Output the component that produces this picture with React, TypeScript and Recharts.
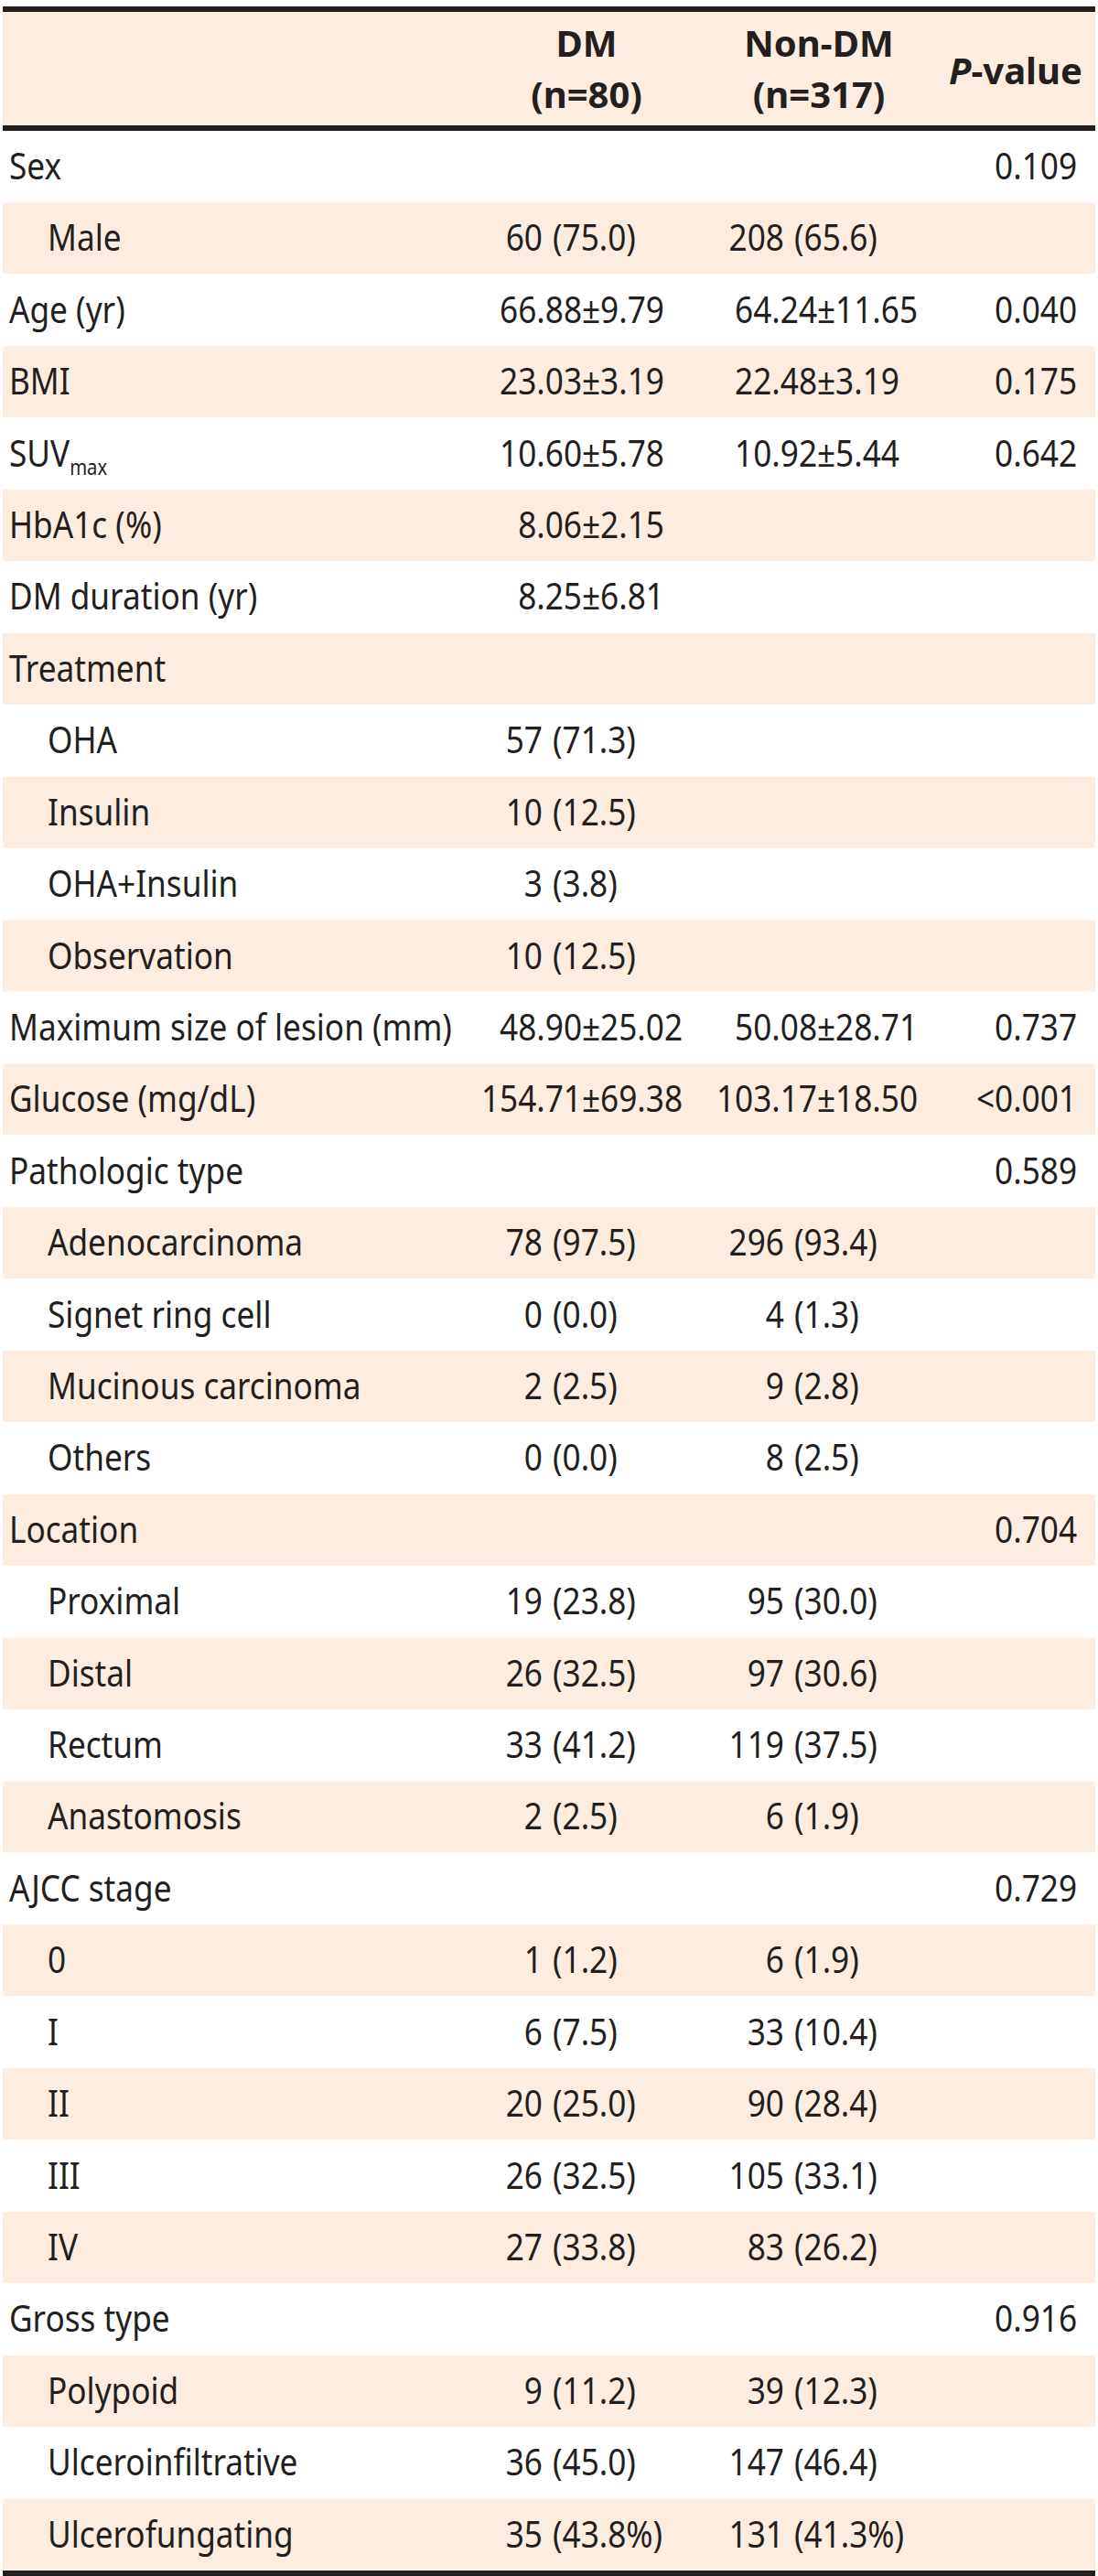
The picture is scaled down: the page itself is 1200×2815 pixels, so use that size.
import React from 'react';
import { BarChart, Bar, XAxis, YAxis, Customized } from 'recharts';

const rowLabels = ['Sex', 'Male', 'Age (yr)', 'BMI', 'SUV', 'HbA1c (%)', 'DM duration (yr)', 'Treatment', 'OHA', 'Insulin', 'OHA+Insulin', 'Observation', 'Maximum size of lesion (mm)', 'Glucose (mg/dL)', 'Pathologic type', 'Adenocarcinoma', 'Signet ring cell', 'Mucinous carcinoma', 'Others', 'Location', 'Proximal', 'Distal', 'Rectum', 'Anastomosis', 'AJCC stage', '0', 'I', 'II', 'III', 'IV', 'Gross type', 'Polypoid', 'Ulceroinfiltrative', 'Ulcerofungating'];
const rowSubscripts = ['', '', '', '', 'max', '', '', '', '', '', '', '', '', '', '', '', '', '', '', '', '', '', '', '', '', '', '', '', '', '', '', '', '', ''];
const indented = [0, 1, 0, 0, 0, 0, 0, 0, 1, 1, 1, 1, 0, 0, 0, 1, 1, 1, 1, 0, 1, 1, 1, 1, 0, 1, 1, 1, 1, 1, 0, 1, 1, 1];
const dmValues = ['', '60 (75.0)', '66.88±9.79', '23.03±3.19', '10.60±5.78', '8.06±2.15', '8.25±6.81', '', '57 (71.3)', '10 (12.5)', '3 (3.8)', '10 (12.5)', '48.90±25.02', '154.71±69.38', '', '78 (97.5)', '0 (0.0)', '2 (2.5)', '0 (0.0)', '', '19 (23.8)', '26 (32.5)', '33 (41.2)', '2 (2.5)', '', '1 (1.2)', '6 (7.5)', '20 (25.0)', '26 (32.5)', '27 (33.8)', '', '9 (11.2)', '36 (45.0)', '35 (43.8%)'];
const nonDmValues = ['', '208 (65.6)', '64.24±11.65', '22.48±3.19', '10.92±5.44', '', '', '', '', '', '', '', '50.08±28.71', '103.17±18.50', '', '296 (93.4)', '4 (1.3)', '9 (2.8)', '8 (2.5)', '', '95 (30.0)', '97 (30.6)', '119 (37.5)', '6 (1.9)', '', '6 (1.9)', '33 (10.4)', '90 (28.4)', '105 (33.1)', '83 (26.2)', '', '39 (12.3)', '147 (46.4)', '131 (41.3%)'];
const pValues = ['0.109', '', '0.040', '0.175', '0.642', '', '', '', '', '', '', '', '0.737', '<0.001', '0.589', '', '', '', '', '0.704', '', '', '', '', '0.729', '', '', '', '', '', '0.916', '', '', ''];
const headerGroups = ['DM', 'Non-DM'];
const headerCounts = ['(n=80)', '(n=317)'];
const headerP = ['P', '-value'];

const data = rowLabels.map((label, i) => ({
  label,
  sub: rowSubscripts[i],
  indent: indented[i],
  dm: dmValues[i],
  nonDm: nonDmValues[i],
  p: pValues[i],
  span: 1,
}));

const W = 1200;
const H = 2815;
const INK = '#231f20';
const PEACH = '#fdede0';
const FONT = "'Noto Sans', 'Open Sans', sans-serif";
const FS = 40;
const SX = 0.88;

const COLS = [
  { countEnd: 593, countStart: 604, meanPivot: 636 },
  { countEnd: 857, countStart: 868, meanPivot: 893 },
];
const P_RIGHT = 1177;

function T({ x, y, anchor = 'start', children, weight = 400, size = FS, sx = SX }: any) {
  return (
    <g transform={`translate(${x},${y}) scale(${sx},1)`}>
      <text x={0} y={0} textAnchor={anchor} fontFamily={FONT} fontSize={size} fontWeight={weight} fill={INK}>
        {children}
      </text>
    </g>
  );
}

function ValueCell({ value, col, y }: any) {
  if (!value) return null;
  const c = COLS[col];
  const pm = value.indexOf('±');
  if (pm >= 0) {
    return (
      <g>
        <T x={c.meanPivot} y={y} anchor="end">{value.slice(0, pm)}</T>
        <T x={c.meanPivot} y={y}>{value.slice(pm)}</T>
      </g>
    );
  }
  const pa = value.indexOf(' (');
  if (pa >= 0) {
    return (
      <g>
        <T x={c.countEnd} y={y} anchor="end">{value.slice(0, pa)}</T>
        <T x={c.countStart} y={y}>{value.slice(pa + 1)}</T>
      </g>
    );
  }
  return <T x={c.countStart} y={y}>{value}</T>;
}

function RowShape(props: any) {
  const { x, y, width, height, index, payload } = props;
  const base = y + height / 2 + 14;
  const lx = payload.indent ? 52 : 10;
  return (
    <g>
      <rect x={x} y={y} width={width} height={height} fill={index % 2 === 1 ? PEACH : '#ffffff'} />
      <g transform={`translate(${lx},${base}) scale(${SX},1)`}>
        <text x={0} y={0} fontFamily={FONT} fontSize={FS} fill={INK}>
          {payload.label}
          {payload.sub ? (
            <tspan fontSize={23} dy={9}>{payload.sub}</tspan>
          ) : null}
        </text>
      </g>
      <ValueCell value={payload.dm} col={0} y={base} />
      <ValueCell value={payload.nonDm} col={1} y={base} />
      {payload.p ? <T x={P_RIGHT} y={base} anchor="end">{payload.p}</T> : null}
    </g>
  );
}

function Header() {
  return (
    <g>
      <rect x={3} y={12} width={W - 6} height={126} fill={PEACH} />
      <rect x={3} y={7} width={W - 6} height={6} fill={INK} />
      <rect x={3} y={137} width={W - 6} height={6} fill={INK} />
      <rect x={3} y={2809} width={W - 6} height={6} fill={INK} />
      <T x={641} y={62} anchor="middle" weight={700} sx={1}>{headerGroups[0]}</T>
      <T x={641} y={118} anchor="middle" weight={700} sx={1}>{headerCounts[0]}</T>
      <T x={895} y={62} anchor="middle" weight={700} sx={1}>{headerGroups[1]}</T>
      <T x={895} y={118} anchor="middle" weight={700} sx={1}>{headerCounts[1]}</T>
      <g transform={`translate(1110,92) scale(1,1)`}>
        <text x={0} y={0} textAnchor="middle" fontFamily={FONT} fontSize={FS} fontWeight={700} fill={INK}>
          <tspan fontStyle="italic">{headerP[0]}</tspan>
          <tspan>{headerP[1]}</tspan>
        </text>
      </g>
    </g>
  );
}

export default function App() {
  return (
    <div style={{ position: 'absolute', left: 0, top: 0, width: W, height: H, background: '#ffffff' }}>
      <BarChart
        width={W}
        height={H}
        data={data}
        layout="vertical"
        margin={{ top: 143, right: 3, bottom: 6, left: 3 }}
        barCategoryGap={0}
        barGap={0}
      >
        <XAxis type="number" domain={[0, 1]} hide />
        <YAxis type="category" dataKey="label" hide />
        <Bar dataKey="span" isAnimationActive={false} shape={<RowShape />} />
        <Customized component={<Header />} />
      </BarChart>
    </div>
  );
}
